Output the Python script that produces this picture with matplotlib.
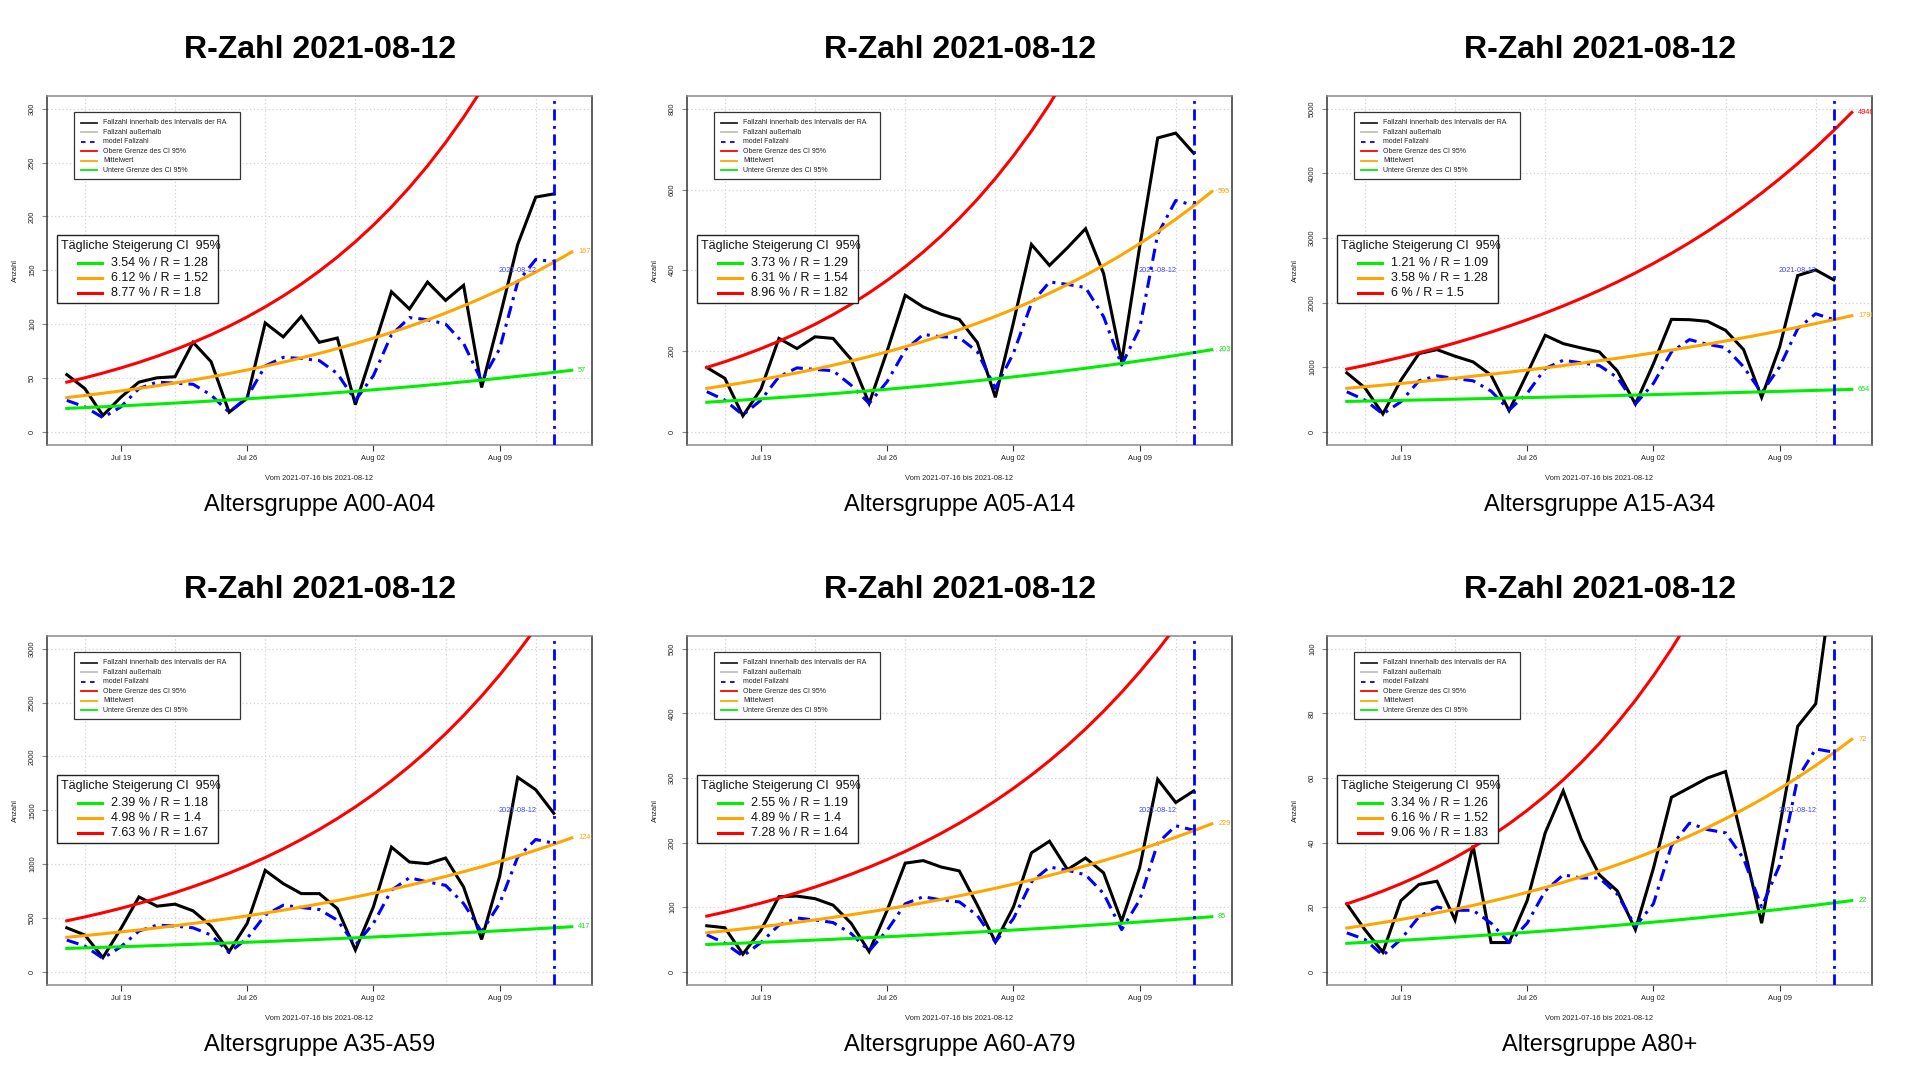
import numpy as np
import pandas as pd
import matplotlib
matplotlib.use('Agg')
import matplotlib.pyplot as plt
import matplotlib.dates as mdates
from matplotlib.patches import Rectangle
from matplotlib.lines import Line2D

plt.rcParams['font.family'] = ['Liberation Sans', 'DejaVu Sans']

# ---------------- data ----------------
title_text = "R-Zahl 2021-08-12"
xlabel_text = "Vom 2021-07-16 bis 2021-08-12"
ylabel_text = "Anzahl"
report_date = "2021-08-12"
groups = ["Altersgruppe A00-A04", "Altersgruppe A05-A14", "Altersgruppe A15-A34",
          "Altersgruppe A35-A59", "Altersgruppe A60-A79", "Altersgruppe A80+"]

dates = pd.date_range("2021-07-16", "2021-08-12", freq="D")
curve_dates = pd.date_range("2021-07-16", "2021-08-13", freq="D")

cases = [
    [53, 40, 15, 32, 46, 50, 51, 83, 65, 18, 31, 101, 88, 107, 83, 87, 25, 77, 130, 114, 139, 122, 136, 41, 106, 174, 218, 221],
    [159, 132, 39, 105, 231, 206, 235, 231, 179, 70, 200, 338, 309, 291, 278, 221, 85, 270, 464, 412, 456, 503, 392, 173, 458, 728, 740, 690],
    [910, 679, 273, 797, 1209, 1270, 1168, 1080, 874, 324, 900, 1492, 1363, 1296, 1235, 941, 427, 1050, 1739, 1734, 1708, 1569, 1271, 530, 1312, 2418, 2505, 2351],
    [407, 340, 130, 400, 694, 608, 627, 565, 423, 185, 448, 941, 818, 725, 725, 586, 201, 602, 1157, 1019, 1003, 1056, 787, 299, 886, 1806, 1691, 1472],
    [71, 68, 27, 64, 116, 117, 113, 103, 75, 31, 95, 168, 172, 162, 156, 103, 46, 100, 184, 202, 158, 176, 153, 78, 161, 298, 262, 280],
    [21, 13, 6, 22, 27, 28, 16, 39, 9, 9, 22, 43, 56, 41, 30, 25, 13, 32, 54, 57, 60, 62, 39, 15, 45, 76, 83, 124],
]
model = [
    [29, 23, 13, 23, 40, 46, 45, 44, 34, 18, 32, 61, 69, 68, 66, 54, 29, 52, 90, 106, 104, 100, 82, 47, 77, 139, 160, 158],
    [99, 78, 41, 78, 136, 158, 154, 151, 115, 70, 124, 202, 241, 235, 233, 198, 107, 194, 318, 371, 365, 357, 285, 165, 256, 489, 573, 561],
    [617, 489, 273, 463, 787, 864, 823, 787, 628, 334, 592, 977, 1106, 1065, 1024, 838, 427, 746, 1235, 1425, 1353, 1301, 1003, 602, 1003, 1595, 1826, 1734],
    [293, 238, 123, 231, 377, 432, 423, 407, 340, 176, 309, 525, 617, 596, 577, 478, 247, 448, 756, 873, 833, 802, 633, 370, 633, 1065, 1228, 1194],
    [57, 44, 24, 45, 72, 83, 80, 76, 59, 32, 64, 105, 116, 111, 108, 87, 46, 82, 139, 162, 157, 150, 121, 65, 111, 199, 226, 219],
    [12, 10, 5, 10, 17, 20, 19, 19, 15, 9, 15, 25, 30, 29, 29, 24, 14, 21, 39, 46, 44, 43, 35, 20, 33, 60, 69, 68],
]

# daily growth (%) and R of the CI bounds
growth_low = [3.54, 3.73, 1.21, 2.39, 2.55, 3.34]
growth_mid = [6.12, 6.31, 3.58, 4.98, 4.89, 6.16]
growth_high = [8.77, 8.96, 6.00, 7.63, 7.28, 9.06]
r_low = ["1.28", "1.29", "1.09", "1.18", "1.19", "1.26"]
r_mid = ["1.52", "1.54", "1.28", "1.4", "1.4", "1.52"]
r_high = ["1.8", "1.82", "1.5", "1.67", "1.64", "1.83"]
pct_low = ["3.54", "3.73", "1.21", "2.39", "2.55", "3.34"]
pct_mid = ["6.12", "6.31", "3.58", "4.98", "4.89", "6.16"]
pct_high = ["8.77", "8.96", "6", "7.63", "7.28", "9.06"]
# values of the curves at their last day (labels at curve end)
end_low = [57, 203, 654, 417, 85, 22]
end_mid = [167, 595, 1796, 1243, 229, 72]
end_high = [484, 1757, 4946, 3700, 615, 238]

y_max = [300, 800, 5000, 3000, 500, 100]
y_step = [50, 200, 1000, 500, 100, 20]

xtick_dates = ["2021-07-19", "2021-07-26", "2021-08-02", "2021-08-09"]
xtick_labels = ["Jul 19", "Jul 26", "Aug 02", "Aug 09"]
vgrid_dates = ["2021-07-17", "2021-07-22", "2021-07-27", "2021-08-01", "2021-08-06", "2021-08-11"]

legend1_labels = ["Fallzahl innerhalb des Intervalls der RA", "Fallzahl außerhalb", "model Fallzahl",
                  "Obere Grenze des CI 95%", "Mittelwert", "Untere Grenze des CI 95%"]
legend2_title = "Tägliche Steigerung CI  95%"

# ---------------- styles ----------------
W, H = 1920, 1080
C_BLUE = "#0000ff"
C_RED = "#ff0000"
C_ORANGE = "#ffa500"
C_GREEN = "#00ee00"
DASHDOT = (0, (4, 2, 1, 2))

fig = plt.figure(figsize=(19.2, 10.8), dpi=100)

AX_L, AX_T, AX_W, AX_H = 46.6, 96.0, 545.4, 348.5
CELL_W, CELL_H = 640, 540


def fx(px):
    return px / W


def fy(py):
    return 1 - py / H


x0 = mdates.date2num(curve_dates[0])
x1 = mdates.date2num(curve_dates[-1])
pad = 0.04 * (x1 - x0)

for k in range(6):
    r, c = divmod(k, 3)
    left = c * CELL_W + AX_L
    top = r * CELL_H + AX_T
    ax = fig.add_axes([fx(left), fy(top + AX_H), AX_W / W, AX_H / H])

    xd = mdates.date2num(dates)
    xc = mdates.date2num(curve_dates)
    t = np.arange(len(curve_dates)) - (len(curve_dates) - 1)
    low = end_low[k] * (1 + growth_low[k] / 100) ** t
    mid = end_mid[k] * (1 + growth_mid[k] / 100) ** t
    high = end_high[k] * (1 + growth_high[k] / 100) ** t

    ym = y_max[k]
    ax.set_xlim(x0 - pad, x1 + pad)
    ax.set_ylim(-0.04 * ym, 1.04 * ym)

    yt = np.arange(0, ym + 1, y_step[k])
    for v in yt:
        ax.axhline(v, color="#d3d3d3", lw=0.9, ls=(0, (1, 2)), zorder=1)
    for d in vgrid_dates:
        ax.axvline(mdates.date2num(pd.Timestamp(d)), color="#d3d3d3", lw=0.9, ls=(0, (1, 2)), zorder=1)

    ax.plot(xd, cases[k], color="black", lw=2.2, zorder=3, solid_joinstyle="miter")
    ax.plot(xd, model[k], color=C_BLUE, lw=2.2, ls=DASHDOT, zorder=3)
    ax.plot(xc, high, color=C_RED, lw=2.2, zorder=4)
    ax.plot(xc, mid, color=C_ORANGE, lw=2.2, zorder=4)
    ax.plot(xc, low, color=C_GREEN, lw=2.2, zorder=4)

    xr = mdates.date2num(pd.Timestamp(report_date))
    ax.axvline(xr, color=C_BLUE, lw=2.0, ls=DASHDOT, zorder=5)
    ax.text(xr - 2, ym / 2, report_date, color="#4646ff", fontsize=5.3, ha="center", va="center", zorder=6)

    for val, col in [(end_high[k], C_RED), (end_mid[k], C_ORANGE), (end_low[k], C_GREEN)]:
        if val <= 1.02 * ym:
            ax.text(xc[-1] + 0.35, val, str(val), color=col, fontsize=5.3, ha="left", va="center",
                    clip_on=True, zorder=6)

    # axes styling
    ax.set_xticks([mdates.date2num(pd.Timestamp(d)) for d in xtick_dates])
    ax.set_xticklabels(xtick_labels, fontsize=5.4, color="#222222")
    ax.set_yticks(yt)
    ax.set_yticklabels([str(int(v)) for v in yt], fontsize=5.4, color="#222222", rotation=90, va="center")
    ax.tick_params(axis="x", length=4.3, width=0.8, color="#333333", pad=3.6)
    ax.tick_params(axis="y", length=3.6, width=0.8, color="#888888", pad=4.0)
    for s in ["left", "right"]:
        ax.spines[s].set_color("#333333")
        ax.spines[s].set_linewidth(1.1)
    for s in ["top", "bottom"]:
        ax.spines[s].set_color("#8a8a8a")
        ax.spines[s].set_linewidth(1.1)

    def axp(px, py):
        return (px / AX_W, 1 - py / AX_H)

    # legend 1
    bx0, by0 = axp(27.4, 16.0)
    bx1, by1 = axp(193.4, 83.0)
    ax.add_patch(Rectangle((bx0, by1), bx1 - bx0, by0 - by1, transform=ax.transAxes,
                           facecolor="white", edgecolor="#333333", lw=0.9, zorder=7))
    l1_colors = ["#222222", "#c0c0c0", C_BLUE, C_RED, C_ORANGE, C_GREEN]
    l1_styles = ["-", "-", (0, (2.5, 2.5)), "-", "-", "-"]
    for i, (lab, col, ls) in enumerate(zip(legend1_labels, l1_colors, l1_styles)):
        ry = 26.7 + i * 9.46
        (ax_, ay_), (bx_, _) = axp(34.4, ry), axp(50.1, ry)
        ax.add_line(Line2D([ax_, bx_], [ay_, ay_], transform=ax.transAxes, color=col, lw=1.3, ls=ls, zorder=8))
        tx, ty = axp(56.7, ry)
        ax.text(tx, ty, lab, transform=ax.transAxes, fontsize=5.0, color="#222222", ha="left", va="center", zorder=8)

    # legend 2
    cx0, cy0 = axp(10.4, 138.5)
    cx1, cy1 = axp(171.4, 207.0)
    ax.add_patch(Rectangle((cx0, cy1), cx1 - cx0, cy0 - cy1, transform=ax.transAxes,
                           facecolor="white", edgecolor="#222222", lw=1.0, zorder=7))
    tx, ty = axp(14.4, 149.5)
    ax.text(tx, ty, legend2_title, transform=ax.transAxes, fontsize=9, color="#111111", ha="left", va="center", zorder=8)
    rows = [(C_GREEN, pct_low[k], r_low[k]), (C_ORANGE, pct_mid[k], r_mid[k]), (C_RED, pct_high[k], r_high[k])]
    for i, (col, p, rv) in enumerate(rows):
        ry = 166.7 + i * 15.0
        (ax_, ay_), (bx_, _) = axp(31.4, ry), axp(55.4, ry)
        ax.add_line(Line2D([ax_, bx_], [ay_, ay_], transform=ax.transAxes, color=col, lw=2.2, zorder=8))
        tx, ty = axp(64.4, ry)
        ax.text(tx, ty, f"{p} % / R = {rv}", transform=ax.transAxes, fontsize=9, color="#111111",
                ha="left", va="center", zorder=8)

    # titles and labels
    cx = c * CELL_W + 320
    fig.text(fx(cx), fy(r * CELL_H + 50.5), title_text, fontsize=23, fontweight="bold", ha="center", va="center")
    fig.text(fx(cx), fy(r * CELL_H + 505), groups[k], fontsize=17, ha="center", va="center")
    fig.text(fx(left + AX_W / 2), fy(r * CELL_H + 478), xlabel_text, fontsize=5.4, color="#222222",
             ha="center", va="center")
    fig.text(fx(c * CELL_W + 15), fy(top + AX_H / 2), ylabel_text, fontsize=5.4, color="#222222",
             ha="center", va="center", rotation=90)

fig.savefig("out.png", dpi=100, facecolor="white")
